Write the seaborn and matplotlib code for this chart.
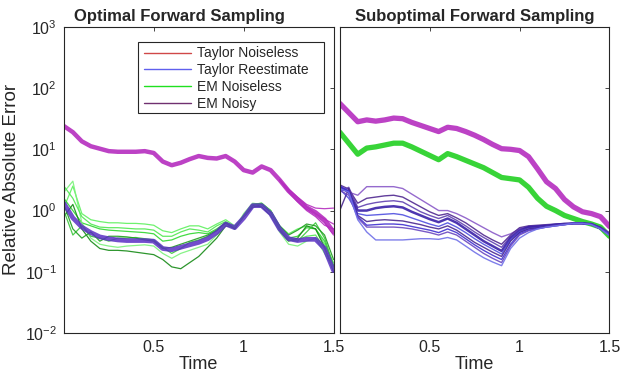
import numpy as np
import pandas as pd
import matplotlib
matplotlib.use("Agg")
from matplotlib import pyplot as plt
from matplotlib.lines import Line2D
from matplotlib.patches import Rectangle
import seaborn as sns

# time grid of all curves
time = [0.0, 0.05, 0.1, 0.15, 0.2, 0.25, 0.3, 0.35, 0.4, 0.45, 0.5,
        0.55, 0.6, 0.65, 0.7, 0.75, 0.8, 0.85, 0.9, 0.95, 1.0,
        1.05, 1.1, 1.15, 1.2, 1.25, 1.3, 1.35, 1.4, 1.45, 1.5]
tail_time = [1.2, 1.25, 1.3, 1.35, 1.4, 1.45, 1.5]

# values are log10 of the relative absolute error
# --- Optimal forward sampling (left) ---
left_taylor = [1.38, 1.28, 1.13, 1.05, 1.01, 0.97, 0.96, 0.96, 0.96, 0.97, 0.94,
               0.80, 0.74, 0.78, 0.84, 0.89, 0.86, 0.85, 0.89, 0.80, 0.66,
               0.62, 0.72, 0.66, 0.50, 0.32, 0.18, 0.05, -0.03, -0.15, -0.35]
left_taylor_tails = [
    [0.50, 0.35, 0.22, 0.10, 0.04, 0.03, 0.04],
    [0.50, 0.30, 0.14, 0.00, -0.10, -0.24, -0.30],
    [0.50, 0.33, 0.20, 0.06, -0.05, -0.14, -0.22],
    [0.50, 0.31, 0.16, 0.02, -0.08, -0.20, -0.40],
]
left_reest = [0.12, -0.12, -0.27, -0.36, -0.43, -0.46, -0.48, -0.49, -0.49, -0.49, -0.50,
              -0.62, -0.64, -0.60, -0.56, -0.52, -0.46, -0.36, -0.22, -0.28, -0.12,
              0.08, 0.08, -0.05, -0.30, -0.46, -0.49, -0.47, -0.47, -0.62, -0.98]
left_em = [
    [0.05, 0.40, -0.05, -0.15, -0.18, -0.20, -0.20, -0.21, -0.21, -0.22, -0.24,
     -0.33, -0.36, -0.30, -0.25, -0.25, -0.30, -0.22, -0.15, -0.25, -0.10,
     0.10, 0.12, 0.00, -0.25, -0.38, -0.30, -0.25, -0.30, -0.55, -0.85],
    [0.20, 0.00, -0.20, -0.25, -0.30, -0.32, -0.33, -0.34, -0.35, -0.36, -0.38,
     -0.50, -0.48, -0.42, -0.38, -0.36, -0.38, -0.30, -0.20, -0.27, -0.10,
     0.10, 0.10, -0.02, -0.30, -0.45, -0.42, -0.28, -0.30, -0.50, -0.90],
    [-0.10, 0.10, -0.30, -0.50, -0.62, -0.65, -0.65, -0.66, -0.68, -0.70, -0.72,
     -0.80, -0.92, -0.95, -0.85, -0.75, -0.60, -0.45, -0.25, -0.28, -0.10,
     0.08, 0.06, -0.08, -0.33, -0.50, -0.45, -0.25, -0.30, -0.60, -1.00],
    [0.30, 0.48, -0.20, -0.45, -0.55, -0.58, -0.60, -0.58, -0.57, -0.56, -0.58,
     -0.70, -0.78, -0.70, -0.65, -0.60, -0.55, -0.40, -0.22, -0.30, -0.05,
     0.12, 0.10, -0.05, -0.35, -0.55, -0.58, -0.50, -0.45, -0.70, -0.95],
    [0.00, -0.40, -0.25, -0.42, -0.45, -0.50, -0.45, -0.45, -0.44, -0.46, -0.48,
     -0.60, -0.70, -0.62, -0.52, -0.48, -0.42, -0.33, -0.20, -0.30, -0.08,
     0.10, 0.12, 0.00, -0.30, -0.48, -0.50, -0.35, -0.20, -0.45, -0.90],
    [0.10, -0.30, -0.45, -0.35, -0.50, -0.42, -0.42, -0.43, -0.45, -0.48, -0.50,
     -0.62, -0.60, -0.55, -0.50, -0.45, -0.40, -0.32, -0.20, -0.30, -0.10,
     0.05, 0.10, -0.02, -0.25, -0.40, -0.32, -0.22, -0.25, -0.40, -0.80],
    [0.40, 0.20, -0.10, -0.22, -0.27, -0.28, -0.28, -0.29, -0.30, -0.30, -0.32,
     -0.42, -0.42, -0.35, -0.30, -0.32, -0.35, -0.25, -0.18, -0.27, -0.10,
     0.10, 0.10, 0.00, -0.28, -0.45, -0.48, -0.42, -0.40, -0.62, -0.92],
]
left_em_colors = ["#5ef05e", "#2fd62f", "#168a16", "#7af27a", "#3cc83c", "#1f9e1f", "#4fe84f"]

# --- Suboptimal forward sampling (right) ---
right_taylor = [1.75, 1.60, 1.45, 1.48, 1.46, 1.48, 1.51, 1.50, 1.44, 1.39, 1.34,
                1.29, 1.36, 1.34, 1.29, 1.23, 1.16, 1.08, 1.01, 1.00, 0.98,
                0.88, 0.68, 0.47, 0.36, 0.18, 0.06, -0.02, -0.05, -0.10, -0.26]
right_em = [1.28, 1.10, 0.92, 1.02, 1.04, 1.07, 1.10, 1.10, 1.04, 0.97, 0.90,
            0.83, 0.93, 0.88, 0.82, 0.76, 0.70, 0.62, 0.54, 0.52, 0.50,
            0.38, 0.20, 0.07, 0.00, -0.08, -0.13, -0.18, -0.22, -0.27, -0.42]
right_noisy = [
    [0.40, 0.30, 0.25, 0.39, 0.39, 0.39, 0.39, 0.36, 0.27, 0.18, 0.09,
     0.00, 0.00, -0.05, -0.12, -0.20, -0.28, -0.36, -0.43, -0.38, -0.30,
     -0.27, -0.26, -0.25, -0.24, -0.22, -0.21, -0.21, -0.22, -0.28, -0.36],
    [0.42, 0.35, 0.12, 0.20, 0.22, 0.24, 0.25, 0.22, 0.14, 0.06, -0.02,
     -0.08, -0.05, -0.12, -0.20, -0.30, -0.40, -0.48, -0.55, -0.40, -0.28,
     -0.25, -0.24, -0.23, -0.22, -0.21, -0.21, -0.21, -0.22, -0.27, -0.37],
    [0.30, 0.38, 0.05, 0.10, 0.13, 0.15, 0.16, 0.14, 0.06, -0.02, -0.08,
     -0.13, -0.08, -0.16, -0.25, -0.35, -0.44, -0.52, -0.60, -0.42, -0.30,
     -0.26, -0.25, -0.24, -0.23, -0.22, -0.21, -0.21, -0.22, -0.28, -0.38],
    [0.38, 0.30, 0.00, 0.00, 0.04, 0.06, 0.07, 0.05, -0.02, -0.08, -0.14,
     -0.19, -0.13, -0.20, -0.30, -0.40, -0.50, -0.58, -0.66, -0.45, -0.33,
     -0.27, -0.26, -0.25, -0.23, -0.22, -0.21, -0.21, -0.22, -0.29, -0.39],
    [0.35, 0.20, -0.05, -0.08, -0.07, -0.06, -0.05, -0.07, -0.12, -0.17, -0.22,
     -0.26, -0.20, -0.27, -0.36, -0.46, -0.55, -0.63, -0.71, -0.48, -0.35,
     -0.30, -0.28, -0.26, -0.24, -0.22, -0.21, -0.21, -0.22, -0.29, -0.38],
    [0.00, 0.36, -0.08, -0.18, -0.16, -0.15, -0.16, -0.17, -0.20, -0.23, -0.27,
     -0.30, -0.25, -0.32, -0.42, -0.52, -0.60, -0.68, -0.75, -0.50, -0.36,
     -0.30, -0.28, -0.26, -0.24, -0.22, -0.21, -0.21, -0.22, -0.30, -0.40],
    [0.40, 0.32, -0.10, -0.24, -0.23, -0.22, -0.22, -0.23, -0.26, -0.29, -0.32,
     -0.36, -0.30, -0.36, -0.46, -0.56, -0.65, -0.73, -0.80, -0.55, -0.38,
     -0.32, -0.29, -0.27, -0.25, -0.23, -0.21, -0.21, -0.22, -0.30, -0.39],
    [0.33, 0.25, -0.12, -0.27, -0.27, -0.27, -0.27, -0.28, -0.30, -0.33, -0.36,
     -0.40, -0.35, -0.40, -0.50, -0.60, -0.70, -0.78, -0.85, -0.58, -0.40,
     -0.33, -0.30, -0.27, -0.25, -0.23, -0.21, -0.21, -0.23, -0.30, -0.40],
    [0.36, 0.30, -0.15, -0.35, -0.48, -0.48, -0.48, -0.48, -0.47, -0.46, -0.46,
     -0.47, -0.44, -0.48, -0.58, -0.68, -0.77, -0.84, -0.90, -0.62, -0.45,
     -0.36, -0.30, -0.27, -0.25, -0.23, -0.21, -0.21, -0.23, -0.30, -0.41],
]
right_noisy_colors = ["#8a5ac8", "#502890", "#6040b0", "#3a20a8", "#5050e0",
                      "#4a2890", "#4030d0", "#6a48c0", "#7070e8"]
right_noisy_widths = [1.0, 1.0, 1.0, 1.8, 1.0, 1.0, 1.0, 1.0, 1.0]

legend_labels = ["Taylor Noiseless", "Taylor Reestimate", "EM Noiseless", "EM Noisy"]
legend_colors = ["#d04848", "#6060ee", "#20e020", "#703070"]

MAGENTA = "#b52dbf"
BAND = "#5a2fc4"
INK = "#262626"


def draw(ax, x, logy, color, lw=1.0, alpha=0.9):
    df = pd.DataFrame({"t": x, "err": 10.0 ** np.asarray(logy)})
    sns.lineplot(data=df, x="t", y="err", color=color, linewidth=lw, alpha=alpha, ax=ax)


sns.set_theme(style="white")
plt.rcParams["font.family"] = ["Liberation Sans", "DejaVu Sans"]
plt.rcParams["mathtext.fontset"] = "custom"
plt.rcParams["mathtext.rm"] = "Liberation Sans"
plt.rcParams["mathtext.it"] = "Liberation Sans"

fig = plt.figure(figsize=(6.2, 3.78), dpi=100)
ax1 = fig.add_axes([0.103, 0.119, 0.435, 0.81])
ax2 = fig.add_axes([0.548, 0.119, 0.435, 0.81])

# left panel
for vals, col in zip(left_em, left_em_colors):
    draw(ax1, time, vals, col, lw=0.9)
draw(ax1, time, left_reest, BAND, lw=3.4, alpha=0.85)
draw(ax1, time, left_taylor, MAGENTA, lw=3.2, alpha=0.9)
for vals in left_taylor_tails:
    draw(ax1, tail_time, vals, MAGENTA, lw=0.9, alpha=0.9)

# right panel
draw(ax2, time, right_taylor, MAGENTA, lw=3.8, alpha=0.9)
draw(ax2, time, right_em, "#22d022", lw=3.8, alpha=0.9)
for vals, col, lw in zip(right_noisy, right_noisy_colors, right_noisy_widths):
    draw(ax2, time, vals, col, lw=lw)

for ax, title, tx in [(ax1, "Optimal Forward Sampling", 0.43),
                      (ax2, "Suboptimal Forward Sampling", 0.5)]:
    ax.set_yscale("log")
    ax.set_xlim(0, 1.5)
    ax.set_ylim(1e-2, 1e3)
    ax.set_yticks([1e-2, 1e-1, 1e0, 1e1, 1e2, 1e3])
    ax.yaxis.set_minor_locator(matplotlib.ticker.NullLocator())
    ax.set_xticks([0.5, 1.0, 1.5])
    ax.set_xticklabels(["0.5", "1", "1.5"])
    ax.tick_params(which="both", direction="in", top=True, right=True,
                   length=3, width=0.6, color=INK, labelsize=11.5,
                   labelcolor=INK, pad=5)
    for sp in ax.spines.values():
        sp.set_color(INK)
        sp.set_linewidth(0.8)
    ax.set_xlabel("Time", fontsize=13, color=INK, labelpad=1)
    ax.set_ylabel("")
    ax.set_title(title, fontsize=12, fontweight="bold", x=tx, pad=4)
    ax.grid(False)

ax1.set_ylabel("Relative Absolute Error", fontsize=13.5, color=INK, labelpad=3)
ax2.tick_params(labelleft=False)

# legend box (MATLAB style, extra room on the right)
ax1.add_patch(Rectangle((0.274, 0.719), 0.689, 0.232, transform=ax1.transAxes,
                        facecolor="white", edgecolor=INK, linewidth=0.8, zorder=5))
handles = [Line2D([0], [0], color=c, lw=1.0) for c in legend_colors]
leg = ax1.legend(handles, legend_labels, loc="upper left", bbox_to_anchor=(0.285, 0.945),
                 borderaxespad=0, fontsize=10, frameon=False,
                 handlelength=3.4, handletextpad=0.45, labelspacing=0.2,
                 borderpad=0.2)
leg.set_zorder(6)

fig.savefig("out.png", dpi=100)
